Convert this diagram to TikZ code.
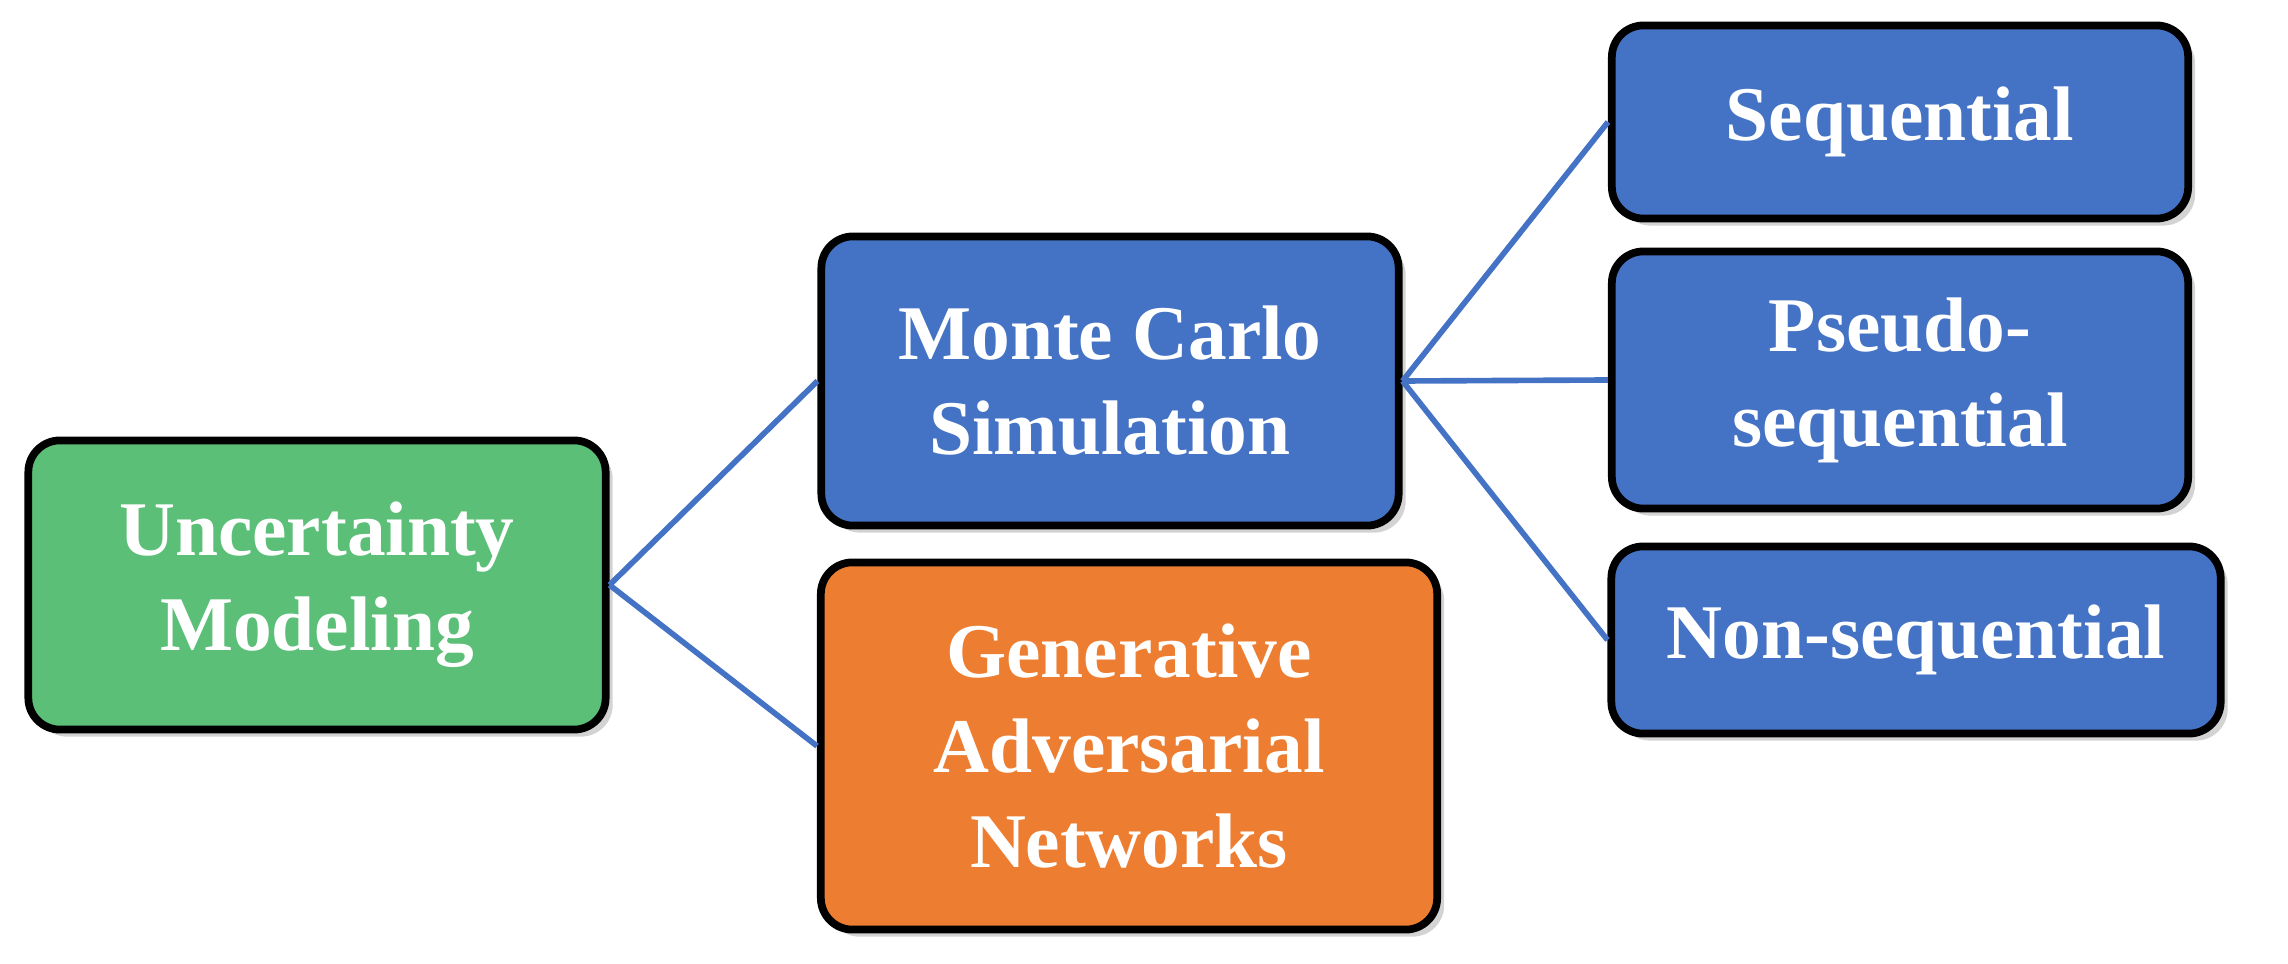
\documentclass[tikz,border=0pt]{standalone}
\usepackage{fontspec}
\setmainfont{Liberation Serif}
\usetikzlibrary{shadows}
\definecolor{gr}{HTML}{5CBF78}
\definecolor{bl}{HTML}{4472C4}
\definecolor{orr}{HTML}{ED7D31}
\definecolor{ln}{HTML}{4472C4}
\begin{document}
\begin{tikzpicture}[x=0.01cm,y=-0.01cm,
 box/.style={draw=black,line width=2.2pt,rounded corners=9pt,inner sep=0pt,align=center,
   font=\fontsize{22}{27}\selectfont\bfseries,text=white,
   drop shadow={shadow xshift=2pt,shadow yshift=-2pt,opacity=0.35}},
 con/.style={draw=ln,line width=1.6pt}]
\useasboundingbox (0,0) rectangle (2288,964);
\node[box,fill=gr,minimum width=5.77cm,minimum height=2.89cm] (u) at (317,585) {Uncertainty\\Modeling};
\node[box,fill=bl,minimum width=5.77cm,minimum height=2.89cm] (m) at (1110,381) {Monte Carlo\\Simulation};
\node[box,fill=orr,minimum width=6.16cm,minimum height=3.67cm] (g) at (1129,746) {Generative\\Adversarial\\Networks};
\node[box,fill=bl,minimum width=5.76cm,minimum height=1.93cm] (s) at (1900,122) {Sequential};
\node[box,fill=bl,minimum width=5.76cm,minimum height=2.57cm] (p) at (1900,380) {Pseudo-\\sequential};
\node[box,fill=bl,minimum width=6.09cm,minimum height=1.87cm] (n) at (1916,640) {Non-sequential};
\draw[con] (u.east) -- (m.west);
\draw[con] (u.east) -- (g.west);
\draw[con] (m.east) -- (s.west);
\draw[con] (m.east) -- (p.west);
\draw[con] (m.east) -- (n.west);
\end{tikzpicture}
\end{document}
